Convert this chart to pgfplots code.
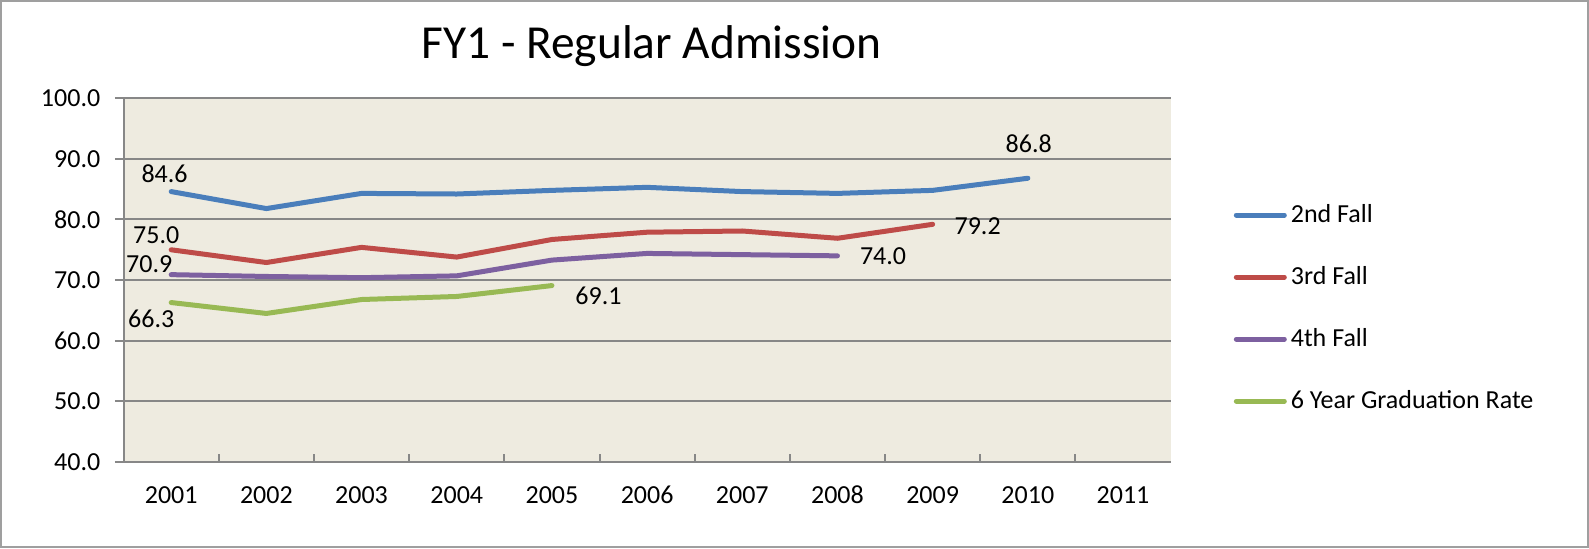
\documentclass[border=0pt]{standalone}
\usepackage{pgfplots}
\pgfplotsset{compat=1.18}
\usepackage{fontspec}
\setmainfont{Carlito}
\definecolor{c2}{HTML}{4A7EBB}
\definecolor{c3}{HTML}{BE4B48}
\definecolor{c4}{HTML}{7D60A0}
\definecolor{c6}{HTML}{98B954}
\definecolor{bg}{HTML}{EEEBE0}
\definecolor{gridc}{HTML}{878787}
\begin{document}
\begin{tikzpicture}
\useasboundingbox (0,0) rectangle (794.5pt,274pt);
\fill[white] (0,0) rectangle (794.5pt,274pt);
\draw[gridc!80, line width=1pt] (0.5pt,0.5pt) rectangle (794pt,273.5pt);
\node[anchor=base, inner sep=0pt, font=\fontsize{23.7}{28}\selectfont] at (325.8pt,244.8pt) {FY1 - Regular Admission};
\begin{axis}[
  at={(61.8pt,43pt)}, anchor=south west,
  scale only axis, width=523.5pt, height=181.9pt,
  xmin=-0.5, xmax=10.5, ymin=40, ymax=100,
  axis background/.style={fill=bg},
  axis x line*=bottom, axis y line*=left,
  axis line style={-, gridc, line width=1pt},
  xtick={0,1,2,3,4,5,6,7,8,9,10},
  xticklabels={2001,2002,2003,2004,2005,2006,2007,2008,2009,2010,2011},
  minor xtick={0.5,1.5,2.5,3.5,4.5,5.5,6.5,7.5,8.5,9.5},
  every major x tick/.append style={draw=none},
  every minor x tick/.append style={gridc, line width=1pt},
  xtick align=inside, minor tick length=4pt,
  ytick={40,50,60,70,80,90,100},
  ytick align=outside, major tick length=4.35pt,
  every major y tick/.append style={gridc, line width=1pt},
  ymajorgrids, major grid style={gridc, line width=1pt},
  /pgf/number format/assume math mode=true,
  yticklabel={\pgfmathprintnumber[fixed, fixed zerofill, precision=1]{\tick}},
  ticklabel style={font=\fontsize{13}{15}\selectfont, text=black},
  xticklabel style={anchor=base, yshift=-20.8pt},
  yticklabel style={xshift=-3.8pt},
  clip=false,
  legend style={draw=none, fill=none, at={(axis description cs:1.06,0.72)}, anchor=north west,
    row sep=16.5pt, font=\fontsize{13}{15}\selectfont, inner sep=0pt},
  legend cell align=left,
  legend image code/.code={\draw[#1, line cap=round] (0pt,0pt) -- (24pt,0pt);},
  every axis plot/.append style={line width=2.5pt, line join=round, line cap=round, mark=none},
]
\addplot[c2] coordinates {(0,84.6) (1,81.8) (2,84.3) (3,84.2) (4,84.8) (5,85.3) (6,84.6) (7,84.3) (8,84.8) (9,86.8)}
  node[pos=0, xshift=-3.3pt, yshift=8.9pt, font=\fontsize{13}{15}\selectfont, text=black]{84.6}
  node[pos=1, yshift=17.2pt, font=\fontsize{13}{15}\selectfont, text=black]{86.8};
\addlegendentry{2nd Fall}
\addplot[c3] coordinates {(0,75.0) (1,72.9) (2,75.4) (3,73.8) (4,76.7) (5,77.9) (6,78.1) (7,76.9) (8,79.2)}
  node[pos=0, xshift=-7.5pt, yshift=7.4pt, font=\fontsize{13}{15}\selectfont, text=black]{75.0}
  node[pos=1, xshift=22.5pt, yshift=-0.7pt, font=\fontsize{13}{15}\selectfont, text=black]{79.2};
\addlegendentry{3rd Fall}
\addplot[c4] coordinates {(0,70.9) (1,70.6) (2,70.4) (3,70.7) (4,73.3) (5,74.4) (6,74.2) (7,74.0)}
  node[pos=0, xshift=-11pt, yshift=5.1pt, font=\fontsize{13}{15}\selectfont, text=black]{70.9}
  node[pos=1, xshift=22.8pt, yshift=0pt, font=\fontsize{13}{15}\selectfont, text=black]{74.0};
\addlegendentry{4th Fall}
\addplot[c6] coordinates {(0,66.3) (1,64.5) (2,66.8) (3,67.3) (4,69.1)}
  node[pos=0, xshift=-10pt, yshift=-7.9pt, font=\fontsize{13}{15}\selectfont, text=black]{66.3}
  node[pos=1, xshift=23.3pt, yshift=-4.9pt, font=\fontsize{13}{15}\selectfont, text=black]{69.1};
\addlegendentry{6 Year Graduation Rate}
\end{axis}
\end{tikzpicture}
\end{document}
